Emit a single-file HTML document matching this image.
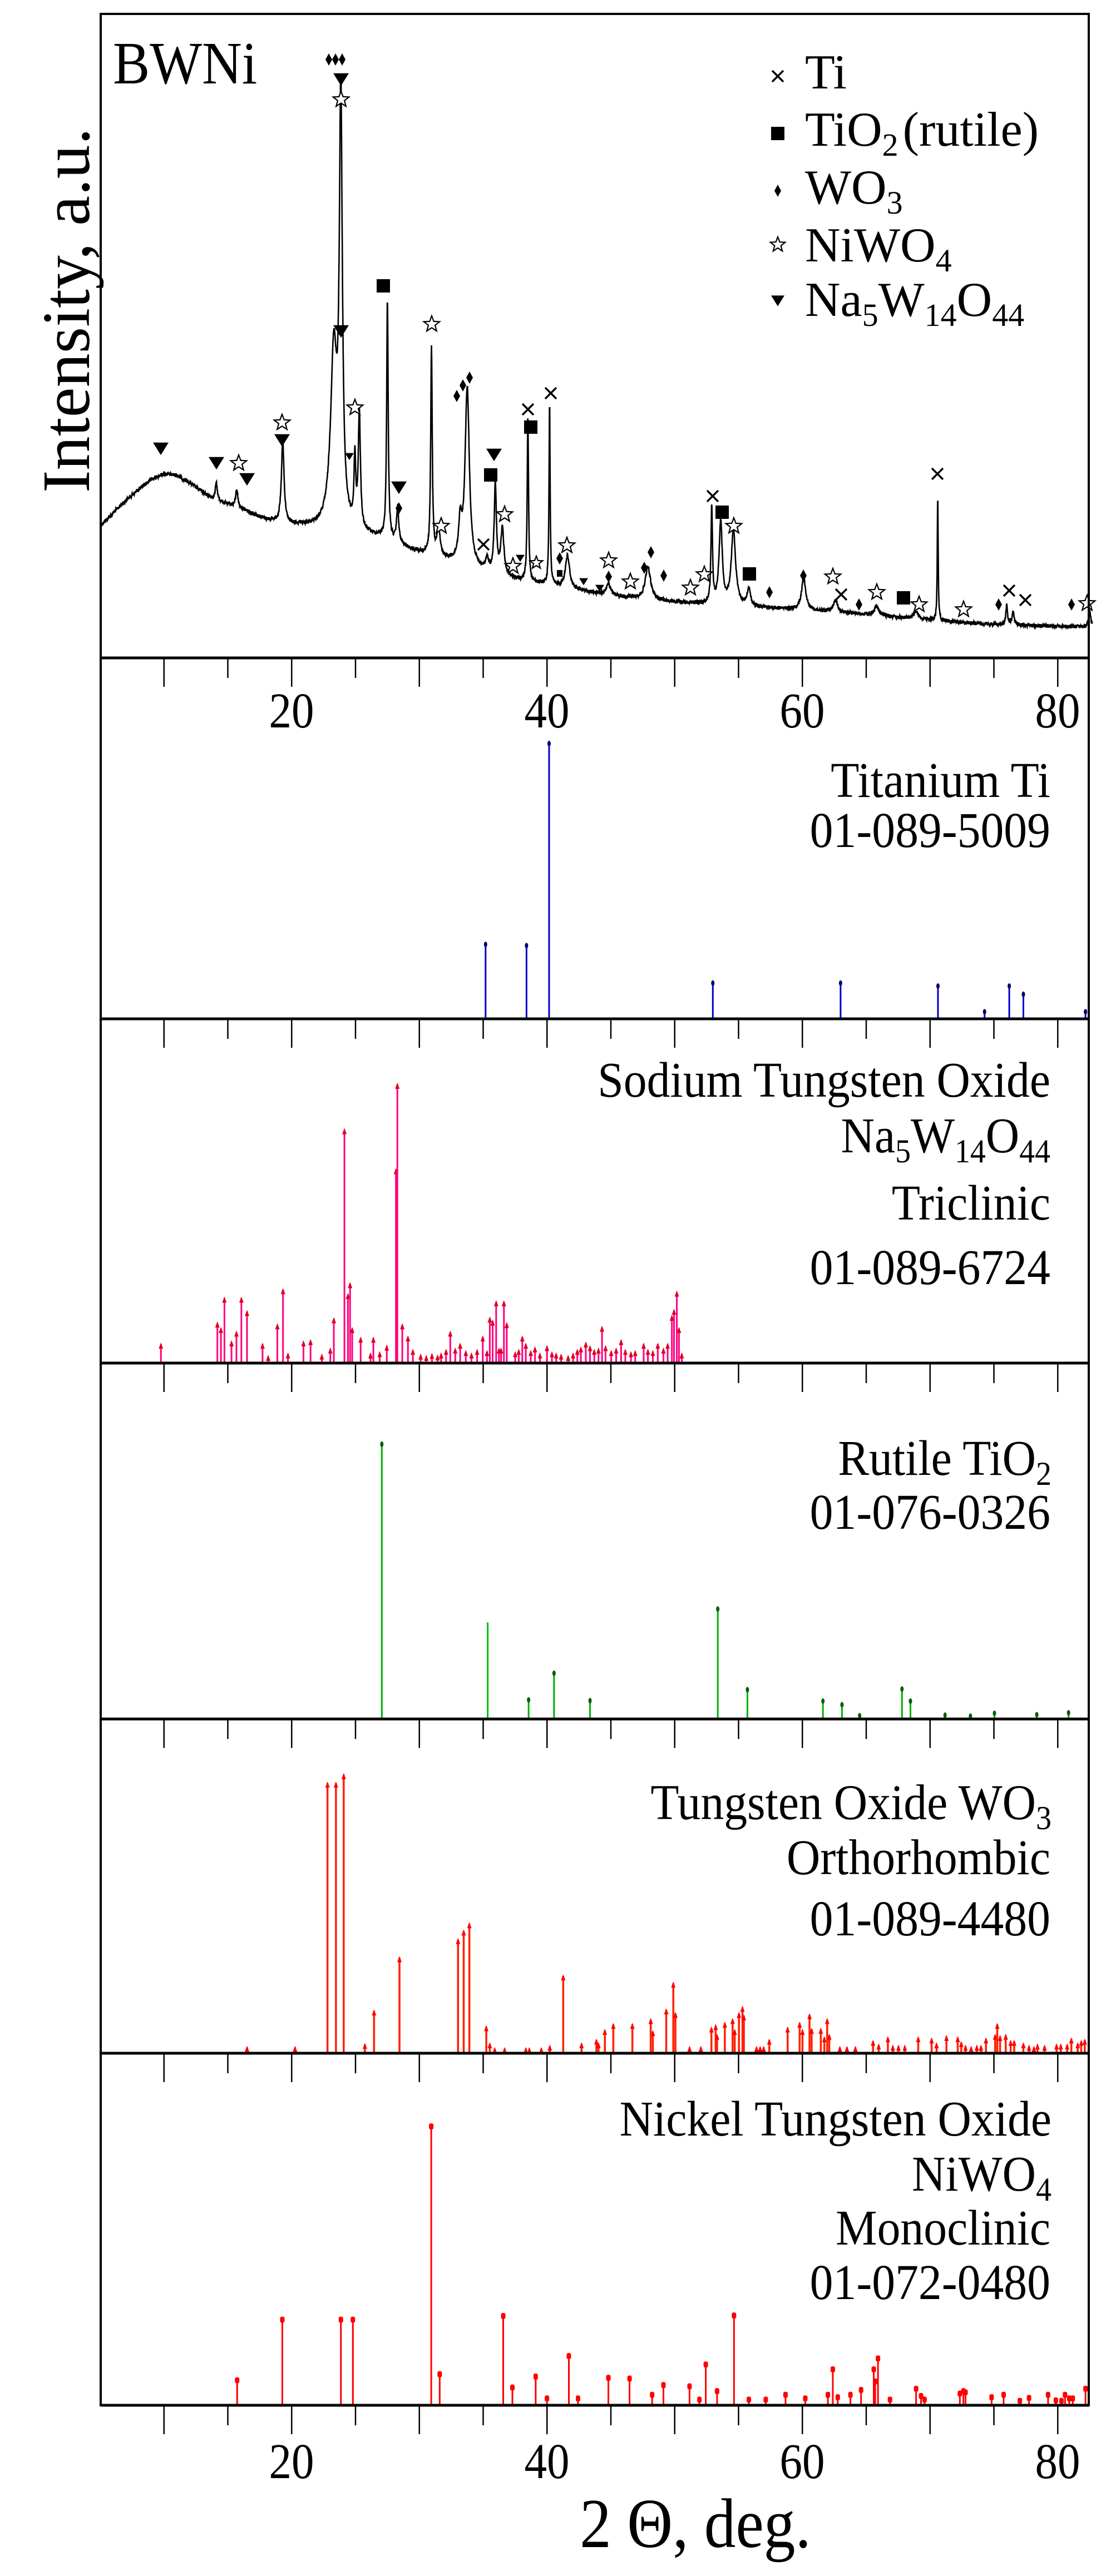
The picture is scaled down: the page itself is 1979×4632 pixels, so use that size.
<!DOCTYPE html>
<html><head><meta charset="utf-8"><style>
html,body{margin:0;padding:0;background:#fff;}
svg{display:block;font-family:"Liberation Serif","Times New Roman",serif;}
text,tspan{font-family:"Liberation Serif","Times New Roman",serif;fill:#000;}
</style></head><body>
<svg id="s" width="1979" height="4632" viewBox="0 0 1979 4632" xmlns="http://www.w3.org/2000/svg" font-family="Liberation Serif, serif">
<rect width="1979" height="4632" fill="#fff"/>
<g id="plot"></g>
<line x1="181" y1="25" x2="1957" y2="25" stroke="#000" stroke-width="4"/>
<line x1="181" y1="23" x2="181" y2="4327" stroke="#000" stroke-width="4"/>
<line x1="1957" y1="23" x2="1957" y2="4327" stroke="#000" stroke-width="4"/>
<g id="axes"></g>
<g font-family="Liberation Serif, serif">
<g transform="translate(203,150) scale(0.92,1)"><text x="0" y="0" font-size="108">BWNi</text></g>
<g transform="translate(160,558) rotate(-90)"><text x="0" y="0" font-size="122" text-anchor="middle">Intensity, a.u.</text></g>
<g font-size="88">
<text x="1447" y="159">Ti</text>
<text x="1447" y="262">TiO<tspan font-size="58" dy="18">2</tspan><tspan dy="-18" dx="8">(rutile)</tspan></text>
<text x="1447" y="366">WO<tspan font-size="58" dy="18">3</tspan></text>
<text x="1447" y="470">NiWO<tspan font-size="58" dy="18">4</tspan></text>
<text x="1447" y="568">Na<tspan font-size="58" dy="18">5</tspan><tspan dy="-18">W</tspan><tspan font-size="58" dy="18">14</tspan><tspan dy="-18">O</tspan><tspan font-size="58" dy="18">44</tspan></text>
</g>
<g font-size="90" text-anchor="middle">
<g transform="translate(524,1308) scale(0.9,1)"><text>20</text></g>
<g transform="translate(983,1308) scale(0.9,1)"><text>40</text></g>
<g transform="translate(1442,1308) scale(0.9,1)"><text>60</text></g>
<g transform="translate(1901,1308) scale(0.9,1)"><text>80</text></g>
<g transform="translate(524,4456) scale(0.9,1)"><text>20</text></g>
<g transform="translate(983,4456) scale(0.9,1)"><text>40</text></g>
<g transform="translate(1442,4456) scale(0.9,1)"><text>60</text></g>
<g transform="translate(1901,4456) scale(0.9,1)"><text>80</text></g>
</g>
<g transform="translate(1250,4580) scale(0.9,1)"><text font-size="126" text-anchor="middle">2 Θ, deg.</text></g>
<g font-size="90" text-anchor="end">
<g transform="translate(1888,1433) scale(0.93,1)"><text>Titanium Ti</text></g>
<g transform="translate(1888,1523) scale(0.93,1)"><text>01-089-5009</text></g>
<g transform="translate(1888,1972) scale(0.93,1)"><text>Sodium Tungsten Oxide</text></g>
<g transform="translate(1888,2072) scale(0.93,1)"><text>Na<tspan font-size="60" dy="18">5</tspan><tspan dy="-18">W</tspan><tspan font-size="60" dy="18">14</tspan><tspan dy="-18">O</tspan><tspan font-size="60" dy="18">44</tspan></text></g>
<g transform="translate(1888,2193) scale(0.93,1)"><text>Triclinic</text></g>
<g transform="translate(1888,2309) scale(0.93,1)"><text>01-089-6724</text></g>
<g transform="translate(1890,2652) scale(0.93,1)"><text>Rutile TiO<tspan font-size="60" dy="18">2</tspan></text></g>
<g transform="translate(1888,2749) scale(0.93,1)"><text>01-076-0326</text></g>
<g transform="translate(1890,3271) scale(0.93,1)"><text>Tungsten Oxide WO<tspan font-size="60" dy="18">3</tspan></text></g>
<g transform="translate(1888,3370) scale(0.93,1)"><text>Orthorhombic</text></g>
<g transform="translate(1888,3480) scale(0.93,1)"><text>01-089-4480</text></g>
<g transform="translate(1890,3840) scale(0.93,1)"><text>Nickel Tungsten Oxide</text></g>
<g transform="translate(1890,3939) scale(0.93,1)"><text>NiWO<tspan font-size="60" dy="18">4</tspan></text></g>
<g transform="translate(1888,4036) scale(0.93,1)"><text>Monoclinic</text></g>
<g transform="translate(1888,4134) scale(0.93,1)"><text>01-072-0480</text></g>
</g>
</g>
</svg>
<script>
(function(){
var NS="http://www.w3.org/2000/svg";
var plot=document.getElementById("plot"), axes=document.getElementById("axes");
function el(tag,attrs,parent){var e=document.createElementNS(NS,tag);for(var k in attrs)e.setAttribute(k,attrs[k]);(parent||plot).appendChild(e);return e;}
function X(d){return 180+(d-5)*22.95;}
var axY=[1183,1832,2451,3091,3692,4325];
axY.forEach(function(y){
  el("line",{x1:181,y1:y,x2:1957,y2:y,stroke:"#000","stroke-width":5},axes);
  for(var d=10;d<=80;d+=5){
    var L=(d%10==0)?52:36;
    el("line",{x1:X(d),y1:y,x2:X(d),y2:y+L,stroke:"#000","stroke-width":2.5},axes);
  }
});
var bp=[[5,946],[7,900],[9,862],[10,852],[11,855],[12,868],[13,885],[14,900],[16,915],[18,935],[20,945],[22,950],[25,960],[27,968],[30,995],[33,1015],[35,1030],[38,1045],[40,1052],[45,1072],[50,1083],[55,1090],[60,1097],[65,1105],[70,1115],[75,1123],[83,1128]];
function base(d){for(var i=0;i<bp.length-1;i++){if(d<=bp[i+1][0]){var t=(d-bp[i][0])/(bp[i+1][0]-bp[i][0]);return bp[i][1]+t*(bp[i+1][1]-bp[i][1]);}}return 1128;}
var pk=[[14.1,870,0.1],[15.7,880,0.1],[19.3,795,0.12],[23.3,640,0.3],[23.85,205,0.14],[24.95,840,0.08],[25.3,755,0.1],[27.5,540,0.07],[28.3,915,0.1],[30.95,625,0.07],[31.5,955,0.15],[33.2,950,0.15],[33.75,700,0.2],[35.3,1010,0.15],[35.95,875,0.1],[36.5,955,0.15],[38.5,750,0.06],[40.2,725,0.05],[41.6,1000,0.2],[44.8,1050,0.2],[47.9,1020,0.25],[52.9,915,0.07],[53.6,940,0.15],[54.6,955,0.2],[55.8,1060,0.15],[60.1,1040,0.2],[62.6,1080,0.2],[65.8,1090,0.2],[68.9,1100,0.2],[70.6,887,0.04],[76,1090,0.08],[76.5,1100,0.1],[82.5,1100,0.1]];
var seed=12345;function rnd(){seed=(seed*1103515245+12345)%2147483648;return seed/2147483648;}
var pts=[];
for(var d=5.05;d<=82.72;d+=0.02){
  var y=base(d);
  pk.forEach(function(p){var a=base(p[0])-p[1];var u=(d-p[0])/p[2];y-=a/(1+u*u);});
  y+=(rnd()-0.5)*7;
  pts.push(X(d).toFixed(1)+","+y.toFixed(1));
}
el("polyline",{points:pts.join(" "),fill:"none",stroke:"#000","stroke-width":2.6});
function tri(x,y,s){s=s||14;el("polygon",{points:(x-s)+","+(y-s*0.8)+" "+(x+s)+","+(y-s*0.8)+" "+x+","+(y+s*0.8),fill:"#000"});}
function sq(x,y){el("rect",{x:x-12,y:y-12,width:24,height:24,fill:"#000"});}
function dia(x,y){el("polygon",{points:x+","+(y-11)+" "+(x+6)+","+y+" "+x+","+(y+11)+" "+(x-6)+","+y,fill:"#000"});}
function cross(x,y){el("path",{d:"M"+(x-10)+" "+(y-10)+"L"+(x+10)+" "+(y+10)+"M"+(x+10)+" "+(y-10)+"L"+(x-10)+" "+(y+10),stroke:"#000","stroke-width":3.5});}
function star(x,y,r){r=r||15;var p=[];for(var i=0;i<10;i++){var a=-Math.PI/2+i*Math.PI/5;var rr=(i%2==0)?r:r*0.42;p.push((x+rr*Math.cos(a)).toFixed(1)+","+(y+rr*Math.sin(a)).toFixed(1));}el("polygon",{points:p.join(" "),fill:"#fff",stroke:"#000","stroke-width":2.2});}
cross(1398,137);sq(1398,240);dia(1398,343);star(1398,440,14);tri(1398,541,12);
[[591,107],[603,107],[615,107]].forEach(function(p){dia(p[0],p[1]);});
tri(613,143);star(613,179);tri(613,596);tri(289,807);tri(389,833);star(429,833);tri(444,862);
star(507,760);tri(507,792);star(638,733);tri(628,821,8);sq(689,514);tri(717,877);dia(717,914);
star(776,583);star(793,946);dia(821,712);dia(832,693);dia(844,679);cross(869,979);tri(888,818);sq(882,854);
star(907,925);star(922,1018);tri(935,1004,8);star(964,1012,12);cross(949,736);sq(954,768);cross(990,707);
dia(1006,1004);el("rect",{x:1001,y:1025,width:10,height:12,fill:"#000"});star(1019,981);tri(1049,1046,8);tri(1078,1058,8);
dia(1094,1037);star(1094,1008);star(1133,1046);dia(1158,1021);dia(1170,993);dia(1193,1035);star(1241,1057);star(1266,1033);
cross(1281,892);sq(1298,921);star(1319,946);sq(1347,1032);dia(1383,1065);dia(1444,1035);star(1497,1037);cross(1512,1069);
dia(1544,1087);star(1576,1065);sq(1624,1075);star(1652,1087);cross(1685,852);star(1732,1096);dia(1795,1087);cross(1814,1062);
cross(1843,1079);dia(1926,1087);star(1954,1085);
function sticks(list,y0,s,axis,lc,dc,shape,lw){
  list.forEach(function(p){
    var x=p[0]*1.2686, y=y0+p[1]*s;
    el("line",{x1:x,y1:axis,x2:x,y2:y,stroke:lc,"stroke-width":lw||3});
    if(shape=="none")return;
    if(shape=="tri")el("polygon",{points:(x-4)+","+(y+8)+" "+(x+4)+","+(y+8)+" "+x+","+(y-3),fill:dc});
    else if(shape=="rect")el("rect",{x:x-4,y:y-3,width:8,height:11,rx:3,fill:dc});
    else el("ellipse",{cx:x,cy:y+3,rx:3,ry:5,fill:dc});
  });
}
var s1=700/1560, s2=680/1560;
sticks([[688,1215],[746,1220],[778,410],[1010,1370],[1191,1370],[1329,1382],[1395,1485],[1430,1382],[1450,1415],[1538,1485]],1150,s1,1832,"#0000cc","#000066","dot",3);
var na=[[228,1370],[308,1283],[313,1305],[318,1180],[328,1360],[335,1320],[342,1180],[350,1235],[372,1370],[380,1420],[393,1290],[401,1145],[408,1410],[430,1360],[440,1355],[456,1415],[468,1390],[473,1265],[488,485],[493,1165],[496,1120],[499,1305],[511,1345],[525,1410],[529,1345],[538,1405],[548,1378],[561,650],[563,298],[570,1290],[578,1340],[585,1395],[596,1415],[604,1420],[612,1412],[620,1418],[625,1410],[632,1395],[638,1320],[645,1390],[652,1370],[660,1400],[668,1410],[676,1395],[684,1340],[690,1400],[694,1262],[698,1275],[703,1195],[707,1390],[710,1390],[714,1195],[718,1285],[730,1405],[735,1395],[740,1340],[745,1370],[752,1400],[758,1385],[765,1410],[775,1380],[782,1405],[788,1410],[795,1415],[805,1420],[812,1410],[818,1395],[823,1385],[830,1365],[836,1380],[842,1395],[848,1390],[853,1300],[858,1380],[866,1400],[873,1390],[880,1355],[886,1395],[894,1405],[900,1400],[912,1370],[918,1395],[925,1400],[932,1370],[940,1390],[946,1370],[952,1255],[955,1230],[959,1155],[962,1305],[966,1410]];
sticks(na,1820,s2,2451,"#ff0080","#e00020","tri",3);
var ru=[[541,330],[749,1385],[785,1275],[836,1388],[1017,1010],[1059,1343],[1166,1390],[1193,1405],[1218,1450],[1278,1340],[1290,1390],[1339,1448],[1375,1452],[1409,1440],[1469,1446],[1514,1438]];
sticks(ru,2450,s2,3091,"#00b000","#006000","dot",3);
sticks([[691,1072]],2450,s2,3091,"#00c000","#006000","none",3);
var wo=[[350,1380],[418,1380],[464,290],[476,290],[487,255],[517,1368],[530,1230],[566,1010],[649,935],[657,900],[665,870],[689,1295],[694,1365],[701,1385],[715,1385],[745,1385],[750,1385],[767,1385],[779,1375],[798,1085],[824,1365],[845,1350],[848,1365],[857,1310],[869,1285],[896,1285],[922,1265],[925,1315],[944,1225],[954,1115],[957,1240],[977,1380],[993,1380],[1008,1300],[1014,1290],[1016,1330],[1027,1280],[1038,1265],[1041,1310],[1047,1240],[1052,1215],[1054,1250],[1072,1380],[1077,1380],[1082,1380],[1090,1350],[1116,1300],[1133,1280],[1137,1310],[1147,1245],[1150,1305],[1163,1305],[1168,1340],[1172,1265],[1175,1330],[1190,1380],[1200,1380],[1212,1380],[1237,1355],[1245,1370],[1258,1340],[1265,1375],[1273,1375],[1282,1375],[1301,1340],[1320,1345],[1327,1365],[1341,1335],[1357,1340],[1362,1360],[1368,1375],[1376,1380],[1384,1375],[1390,1375],[1397,1345],[1410,1330],[1413,1285],[1417,1335],[1425,1330],[1432,1355],[1437,1355],[1450,1365],[1458,1375],[1465,1380],[1470,1370],[1480,1375],[1497,1370],[1503,1370],[1512,1370],[1518,1345],[1527,1365],[1532,1355],[1537,1350]];
sticks(wo,3080,s2,3692,"#ff2000","#ff0000","tri",3.5);
var ni=[[336,1325],[400,1075],[483,1075],[500,1075],[611,278],[623,1300],[713,1060],[726,1355],[759,1310],[775,1400],[806,1225],[819,1400],[862,1315],[892,1318],[924,1385],[940,1345],[977,1350],[991,1405],[1000,1260],[1016,1370],[1040,1058],[1061,1405],[1085,1405],[1113,1385],[1141,1400],[1173,1385],[1180,1280],[1187,1395],[1205,1385],[1220,1365],[1238,1280],[1240,1330],[1244,1235],[1261,1405],[1298,1360],[1305,1390],[1310,1405],[1360,1380],[1365,1370],[1368,1375],[1405,1395],[1422,1385],[1445,1410],[1458,1398],[1485,1385],[1496,1408],[1504,1410],[1509,1385],[1515,1400],[1520,1400],[1538,1360]];
sticks(ni,3700,s2,4325,"#ff0000","#ff0000","rect",3);
})();
</script>
</body></html>
